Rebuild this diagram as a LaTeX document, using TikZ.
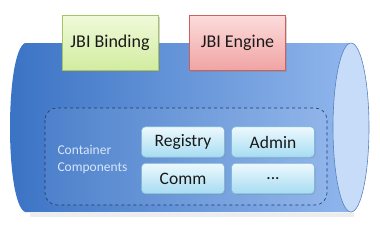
\documentclass[tikz,border=0pt]{standalone}
\usepackage{fontspec}
\setmainfont{Carlito}
\usetikzlibrary{shadows}
\definecolor{bodyL}{HTML}{3A72C4}
\definecolor{bodyR}{HTML}{90B6EC}
\definecolor{capF}{HTML}{C7DCF8}
\definecolor{capD}{HTML}{5A80C0}
\definecolor{grnT}{HTML}{F0FADA}
\definecolor{grnB}{HTML}{D2ECA0}
\definecolor{grnD}{HTML}{A5C46A}
\definecolor{redT}{HTML}{FCDCDC}
\definecolor{redB}{HTML}{F1A4A4}
\definecolor{redD}{HTML}{C9625E}
\definecolor{cynT}{HTML}{EDF9FD}
\definecolor{cynB}{HTML}{A6DCF2}
\definecolor{cynD}{HTML}{80B8DA}
\definecolor{navy}{HTML}{1F3864}
\definecolor{lbl}{HTML}{D8E7F9}
\tikzset{
  topbox/.style={draw, line width=0.6pt, minimum width=96pt, minimum height=55pt,
    font=\fontsize{18}{20}\selectfont, text=black!90,
    drop shadow={shadow xshift=1.5pt, shadow yshift=-1.5pt, opacity=0.35}},
  compbox/.style={draw=cynD, line width=0.6pt, rounded corners=4pt,
    top color=cynT, bottom color=cynB, minimum width=83pt, minimum height=30.5pt,
    font=\fontsize{17.5}{19}\selectfont, text=black!90,
    drop shadow={shadow xshift=1pt, shadow yshift=-1pt, opacity=0.3}},
}
\begin{document}
\begin{tikzpicture}[x=1pt,y=-1pt]
\useasboundingbox (0,0) rectangle (380,236);
% shadow of cylinder
\fill[black, opacity=0.07] (30,213) -- (354,213) -- (354,216.5) -- (30,216.5) -- cycle;
% body
\path[left color=bodyL, right color=bodyR]
  (25,43) -- (352,43) -- (352,212) -- (25,212)
  .. controls (5,203) and (5,52) .. (25,43) -- cycle;
% right cap
\draw[fill=capF, draw=capD, line width=0.6pt] (351,127.5) ellipse [x radius=18, y radius=84.5];
% dashed container
\draw[navy, dashed, line width=0.6pt, rounded corners=12pt, fill=white, fill opacity=0.06]
  (45,108) rectangle (327,205);
\node[anchor=west, align=left, text=lbl, font=\fontsize{13.5}{17}\selectfont] (cc) at (54,159.5) {Container\\Components};
% top boxes
\node[topbox, draw=grnD, top color=grnT, bottom color=grnB] (bind) at (110,42.5) {JBI Binding};
\node[topbox, draw=redD, top color=redT, bottom color=redB] (eng) at (237.5,42.5) {JBI Engine};
% component boxes
\node[compbox] (reg) at (183,142) {Registry};
\node[compbox] (adm) at (273,142) {Admin};
\node[compbox] (comm) at (183,178.5) {Comm};
\node[compbox] (dots) at (273,178.5) {...};
\end{tikzpicture}
\end{document}
